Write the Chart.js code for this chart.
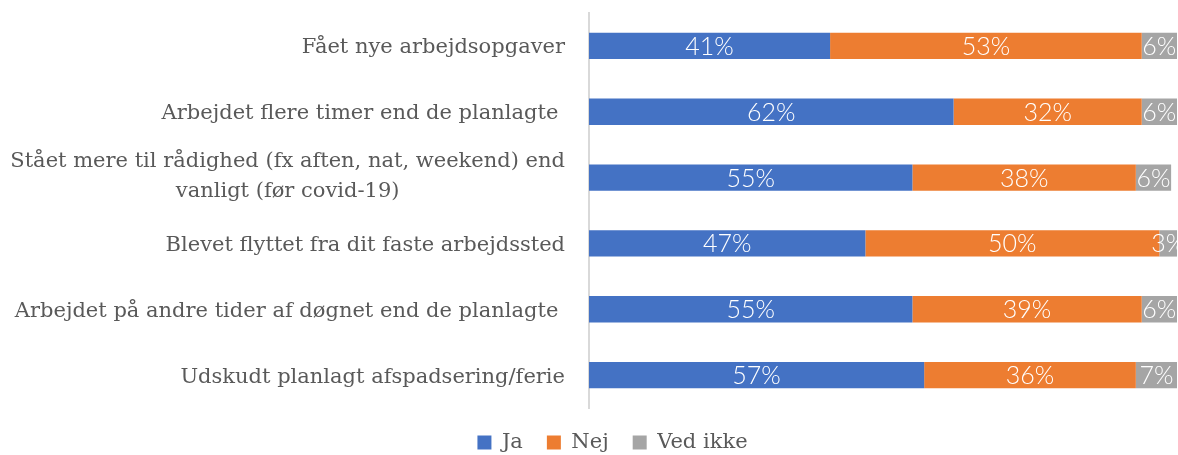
<!DOCTYPE html>
<html>
<head>
<meta charset="utf-8">
<script src="https://cdn.jsdelivr.net/npm/chart.js@4.4.0/dist/chart.umd.min.js"></script>
<style>
  html, body { margin: 0; padding: 0; background: #fff; }
  #wrap { width: 1178px; height: 455px; }
</style>
</head>
<body>
<div id="wrap"><canvas id="chart"></canvas></div>
<script>
// Data
const categories = [
  'Fået nye arbejdsopgaver',
  'Arbejdet flere timer end de planlagte ',
  ['Stået mere til rådighed (fx aften, nat, weekend) end', 'vanligt (før covid-19)'],
  'Blevet flyttet fra dit faste arbejdssted',
  'Arbejdet på andre tider af døgnet end de planlagte ',
  'Udskudt planlagt afspadsering/ferie'
];
const seriesNames = ['Ja', 'Nej', 'Ved ikke'];
const ja = [41, 62, 55, 47, 55, 57];
const nej = [53, 32, 38, 50, 39, 36];
const vedIkke = [6, 6, 6, 3, 6, 7];

const colors = ['#4472C4', '#ED7D31', '#A5A5A5'];
const serif = '"DejaVu Serif", serif';
const textGrey = '#595959';

// Percent labels inside the bars
const barLabels = {
  id: 'barLabels',
  afterDatasetsDraw(chart) {
    const ctx = chart.ctx;
    ctx.save();
    ctx.font = '300 25px Lato, sans-serif';
    ctx.fillStyle = '#fff';
    ctx.textAlign = 'center';
    ctx.textBaseline = 'middle';
    chart.data.datasets.forEach((ds, i) => {
      chart.getDatasetMeta(i).data.forEach((bar, j) => {
        const { x, base, y } = bar.getProps(['x', 'base', 'y'], true);
        ctx.fillText(ds.data[j] + '%', (x + base) / 2, y + 1);
      });
    });
    ctx.restore();
  }
};

// Category labels: block right-aligned, lines centered on each other
const catLabels = {
  id: 'catLabels',
  afterDraw(chart) {
    const ctx = chart.ctx;
    const yScale = chart.scales.y;
    const right = chart.chartArea.left - 24;
    ctx.save();
    ctx.font = '21px ' + serif;
    ctx.fillStyle = textGrey;
    ctx.textAlign = 'center';
    ctx.textBaseline = 'middle';
    categories.forEach((lab, i) => {
      const lines = Array.isArray(lab) ? lab : [lab];
      const w = Math.max(...lines.map(l => ctx.measureText(l).width));
      const cy = yScale.getPixelForValue(i) + 2 - 3 * (lines.length - 1);
      lines.forEach((l, k) => {
        ctx.fillText(l, right - w / 2, cy + (k - (lines.length - 1) / 2) * 30);
      });
    });
    ctx.restore();
  }
};

// Nudge legend a bit to the right, like the original
const legendShift = {
  id: 'legendShift',
  afterLayout(chart) {
    chart.legend.left += 24;
    chart.legend.right += 24;
  }
};

new Chart(document.getElementById('chart'), {
  type: 'bar',
  data: {
    labels: categories,
    datasets: [ja, nej, vedIkke].map((d, i) => ({
      label: seriesNames[i],
      data: d,
      backgroundColor: colors[i],
      borderColor: colors[i],
      borderWidth: 0,
      categoryPercentage: 1,
      barPercentage: 0.4
    }))
  },
  options: {
    indexAxis: 'y',
    responsive: true,
    maintainAspectRatio: false,
    animation: false,
    layout: { padding: { top: 13, right: 1, bottom: -8 } },
    scales: {
      x: { stacked: true, min: 0, max: 100, display: false },
      y: {
        stacked: true,
        ticks: { display: false },
        grid: { display: false },
        border: { color: '#d9d9d9', width: 2 },
        afterFit: s => { s.width = 589; }
      }
    },
    plugins: {
      legend: {
        position: 'bottom',
        labels: {
          boxWidth: 14,
          boxHeight: 14,
          padding: 24,
          color: textGrey,
          font: { family: serif, size: 21 }
        }
      },
      tooltip: { enabled: false }
    }
  },
  plugins: [barLabels, catLabels, legendShift]
});
</script>
</body>
</html>
